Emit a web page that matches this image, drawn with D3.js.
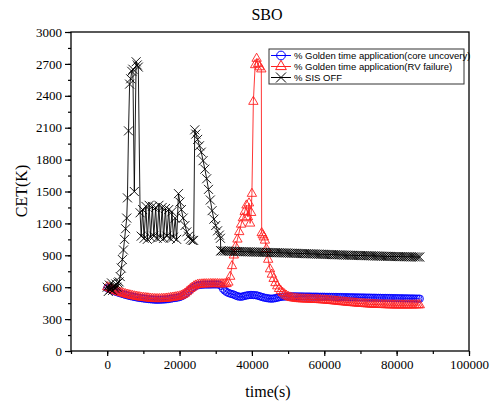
<!DOCTYPE html>
<html>
<head>
<meta charset="utf-8">
<script src="https://cdn.jsdelivr.net/npm/d3@7"></script>
<style>
  html, body { margin: 0; padding: 0; background: #fff; }
  svg { display: block; }
</style>
</head>
<body>
<svg id="chart" width="498" height="408"></svg>
<script>
// ---- data: time (s) and CET (K) for each case ----
const coreTime = [
  0,500,1000,1500,2000,2500,3000,3500,4000,4500,5000,5500,6000,6500,7000,7500,8000,8500,9000,9500,
  10000,10500,11000,11500,12000,12500,13000,13500,14000,14500,15000,15500,16000,16500,17000,17500,
  18000,18500,19000,19500,20000,20500,21000,21500,22000,22500,23000,23500,24000,24500,25000,25500,
  26000,26500,27000,27500,28000,28500,29000,29500,30000,30500,31000,31500,32000,32500,33000,33500,
  34000,34500,35000,35500,36000,36500,37000,37500,38000,38500,39000,39500,40000,40500,41000,41500,
  42000,42500,43000,43500,44000,44500,45000,45500,46000,46500,47000,47500,48000,48500,49000,49500,
  50000,50500,51000,51500,52000,52500,53000,53500,54000,54500,
  55000,55500,56000,56500,57000,57500,58000,58500,59000,59500,
  60000,60500,61000,61500,62000,62500,63000,63500,64000,64500,
  65000,65500,66000,66500,67000,67500,68000,68500,69000,69500,
  70000,70500,71000,71500,72000,72500,73000,73500,74000,74500,
  75000,75500,76000,76500,77000,77500,78000,78500,79000,79500,
  80000,80500,81000,81500,82000,82500,83000,83500,84000,84500,
  85000,85500,86000,86400
];
const coreCET = [
  592,585,577,570,562,556,550,545,539,534,529,524,520,516,512,509,505,502,499,497,
  494,492,490,488,486,485,483,482,482,482,483,484,485,487,489,492,
  495,498,500,503,507,514,522,533,547,562,577,590,602,612,618,621,
  623,624,625,625,625,625,626,626,626,626,625,612,585,568,555,546,
  540,535,530,522,515,511,510,513,518,522,525,527,527,526,525,522,
  516,511,506,501,498,495,493,492,494,497,501,505,509,511,512,513,
  513,514,514,514,514,513,513,513,513,512,
  512,512,512,511,511,511,511,510,510,510,
  510,509,509,509,508,508,508,508,507,507,
  507,506,506,506,505,505,505,504,504,504,
  503,503,503,502,502,502,501,501,501,500,
  500,500,499,499,499,498,498,498,497,497,
  497,496,496,496,495,495,495,494,494,494,
  493,493,492,492
];

const rvTime = [
  0,500,1000,1500,2000,2500,3000,3500,4000,4500,5000,5500,6000,6500,7000,7500,8000,8500,9000,9500,
  10000,10500,11000,11500,12000,12500,13000,13500,14000,14500,15000,15500,16000,16500,17000,17500,
  18000,18500,19000,19500,20000,20500,21000,21500,22000,22500,23000,23500,24000,24500,25000,25500,
  26000,26500,27000,27500,28000,28500,29000,29500,30000,30500,31000,31500,32000,32500,33000,33500,
  34000,34500,35000,35500,36000,36500,37000,37500,38000,38500,38900,39200,39500,39800,40000,40400,
  40900,41300,41700,42100,42600,42700,43000,43300,43600,44000,44500,45000,45500,46000,46500,47000,
  47500,48000,48500,49000,49500,50000,50500,
  51000,51500,52000,52500,53000,53500,54000,54500,55000,55500,
  56000,56500,57000,57500,58000,58500,59000,59500,60000,60500,
  61000,61500,62000,62500,63000,63500,64000,64500,65000,65500,
  66000,66500,67000,67500,68000,68500,69000,69500,70000,70500,
  71000,71500,72000,72500,73000,73500,74000,74500,75000,75500,
  76000,76500,77000,77500,78000,78500,79000,79500,80000,80500,
  81000,81500,82000,82500,83000,83500,84000,84500,85000,85500,
  86000,86400
];
const rvCET = [
  602,594,586,578,571,564,558,552,547,542,537,532,528,524,520,516,513,510,507,504,
  502,500,498,496,494,492,491,490,490,490,491,492,493,495,497,500,
  503,505,508,511,515,522,530,541,555,570,585,598,610,618,624,627,
  628,629,630,630,630,631,631,631,631,631,630,630,630,630,631,645,
  700,800,900,980,1050,1120,1190,1250,1310,1370,1260,1390,1200,1300,1480,2345,
  2690,2750,2700,2670,2650,1110,1090,1070,1040,960,860,770,720,680,640,610,
  585,565,548,535,522,512,505,
  500,497,494,492,490,489,488,488,487,487,
  486,485,484,483,482,481,480,479,478,477,
  475,474,472,470,468,467,465,463,461,460,
  458,456,455,453,452,450,449,447,446,445,
  444,442,441,440,439,438,437,436,435,435,
  434,434,433,433,432,432,432,431,431,431,
  431,431,431,431,431,431,431,431,432,432,
  432,432
];

const sisTime = [
  0,300,600,900,1200,1500,1800,2100,2400,2700,3000,3300,3600,3900,4200,4500,4800,5100,5400,5600,
  5900,6200,6500,6800,7100,7500,8000,8300,8600,9100,9400,9800,10200,10700,11100,11600,12000,12500,
  12900,13400,13800,14300,14700,15200,15600,16100,16500,17000,17400,17900,18300,18800,19200,19700,
  20100,20500,21000,21500,22000,22500,23000,23500,23900,24200,24500,25000,25500,26000,26500,27000,
  27500,28000,28500,29000,29500,30000,30500,31000,31300,31400,
  31500,32000,32500,33000,33500,34000,34500,35000,35500,36000,
  36500,37000,37500,38000,38500,39000,39500,40000,40500,41000,
  41500,42000,42500,43000,43500,44000,44500,45000,45500,46000,
  46500,47000,47500,48000,48500,49000,49500,50000,50500,51000,
  51500,52000,52500,53000,53500,54000,54500,55000,55500,56000,
  56500,57000,57500,58000,58500,59000,59500,60000,60500,61000,
  61500,62000,62500,63000,63500,64000,64500,65000,65500,66000,
  66500,67000,67500,68000,68500,69000,69500,70000,70500,71000,
  71500,72000,72500,73000,73500,74000,74500,75000,75500,76000,
  76500,77000,77500,78000,78500,79000,79500,80000,80500,81000,
  81500,82000,82500,83000,83500,84000,84500,85000,85500,86000,
  86400
];
const sisCET = [
  600,560,620,580,640,570,610,590,630,600,640,650,700,780,860,950,1050,1150,1250,1440,
  2070,2510,2560,2630,2650,1500,2720,2690,2670,1300,1080,1330,1060,1360,1050,1370,1070,1360,
  1080,1350,1060,1370,1070,1350,1060,1340,1080,1330,1060,1310,1070,1250,1050,1480,
  1400,1330,1250,1180,1120,1080,1050,1040,1040,2080,2040,1990,1930,1870,1790,1710,
  1620,1520,1420,1320,1240,1180,1130,1090,1060,942,
  942,941,940,940,939,938,938,937,936,936,
  935,935,934,933,933,932,932,931,931,930,
  930,929,929,928,928,927,927,926,926,925,
  925,924,924,923,923,922,922,921,920,920,
  919,919,918,917,917,916,916,915,914,914,
  913,913,912,911,911,910,910,909,908,908,
  907,907,906,905,905,904,904,903,902,902,
  901,901,900,900,899,899,898,898,897,897,
  896,896,895,895,894,894,893,893,892,892,
  891,891,890,890,889,889,888,888,888,887,
  887,887,886,886,886,885,885,885,884,884,
  884
];

const xTicks = [0, 20000, 40000, 60000, 80000, 100000];
const yTicks = [0, 300, 600, 900, 1200, 1500, 1800, 2100, 2400, 2700, 3000];
const legendLabels = [
  "% Golden time application(core uncovery)",
  "% Golden time application(RV failure)",
  "% SIS OFF"
];

// ---- layout ----
const svg = d3.select("#chart");
const plot = { left: 71, right: 469, top: 32, bottom: 351 };
const serif = "'Liberation Serif', 'Times New Roman', serif";
const sans = "'Liberation Sans', Arial, sans-serif";

const x = d3.scaleLinear().domain([-10000, 100000]).range([plot.left, plot.right]);
const y = d3.scaleLinear().domain([0, 3000]).range([plot.bottom, plot.top]);

// title and axis labels
svg.append("text").attr("x", 267).attr("y", 20).attr("text-anchor", "middle")
  .attr("font-family", serif).attr("font-size", 16).text("SBO");
svg.append("text").attr("x", 268).attr("y", 397).attr("text-anchor", "middle")
  .attr("font-family", serif).attr("font-size", 16).text("time(s)");
svg.append("text").attr("transform", "translate(27,191) rotate(-90)").attr("text-anchor", "middle")
  .attr("font-family", serif).attr("font-size", 16).text("CET(K)");

// ---- series ----
const series = [
  { t: coreTime, v: coreCET, color: "#0000ff", shape: "circle" },
  { t: rvTime, v: rvCET, color: "#ff2020", shape: "triangle" },
  { t: sisTime, v: sisCET, color: "#000000", shape: "cross" }
];

const clipId = "plotClip";
svg.append("clipPath").attr("id", clipId).append("rect")
  .attr("x", plot.left).attr("y", plot.top)
  .attr("width", plot.right - plot.left).attr("height", plot.bottom - plot.top);

const line = d3.line().x(d => x(d[0])).y(d => y(d[1]));

function markerPath(shape) {
  if (shape === "circle") return d3.symbol().type(d3.symbolCircle).size(42)();
  if (shape === "triangle") return d3.symbol().type(d3.symbolTriangle).size(38)();
  return "M-4.5,-4.5L4.5,4.5M-4.5,4.5L4.5,-4.5";
}

const g = svg.append("g").attr("clip-path", `url(#${clipId})`);
series.forEach(s => {
  const pts = s.t.map((t, i) => [t, s.v[i]]);
  g.append("path").datum(pts).attr("d", line)
    .attr("fill", "none").attr("stroke", s.color).attr("stroke-width", 0.9);
  g.append("g").selectAll("path").data(pts).join("path")
    .attr("transform", d => `translate(${x(d[0])},${y(d[1])})`)
    .attr("d", markerPath(s.shape))
    .attr("fill", "none").attr("stroke", s.color).attr("stroke-width", 0.9);
});

// ---- axes ----
const xAxis = d3.axisBottom(x).tickValues(xTicks).tickSize(5).tickPadding(4).tickFormat(d3.format("d"));
const xMinor = d3.axisBottom(x).tickValues(d3.range(-10000, 100001, 10000)).tickSize(3).tickFormat("");
const yAxis = d3.axisLeft(y).tickValues(yTicks).tickSize(6).tickPadding(3).tickFormat(d3.format("d"));
const yMinor = d3.axisLeft(y).tickValues(d3.range(0, 3001, 150)).tickSize(3).tickFormat("");

function styleAxis(sel) {
  sel.select(".domain").remove();
  sel.selectAll("line").attr("stroke", "#000").attr("stroke-width", 1.2);
  sel.selectAll("text").attr("font-family", serif).attr("font-size", 13).attr("fill", "#000");
}
svg.append("g").attr("transform", `translate(0,${plot.bottom})`).call(xMinor).call(styleAxis);
svg.append("g").attr("transform", `translate(0,${plot.bottom})`).call(xAxis).call(styleAxis);
svg.append("g").attr("transform", `translate(${plot.left},0)`).call(yMinor).call(styleAxis);
svg.append("g").attr("transform", `translate(${plot.left},0)`).call(yAxis).call(styleAxis);

svg.append("rect").attr("x", plot.left).attr("y", plot.top)
  .attr("width", plot.right - plot.left).attr("height", plot.bottom - plot.top)
  .attr("fill", "none").attr("stroke", "#000").attr("stroke-width", 1.3);

// ---- legend ----
const lg = svg.append("g").attr("transform", "translate(269,49)");
lg.append("rect").attr("width", 195).attr("height", 35)
  .attr("fill", "#fff").attr("stroke", "#333").attr("stroke-width", 1);
series.forEach((s, i) => {
  const cy = 6.5 + i * 11;
  lg.append("line").attr("x1", 2).attr("x2", 22).attr("y1", cy).attr("y2", cy)
    .attr("stroke", s.color).attr("stroke-width", 1);
  lg.append("path").attr("transform", `translate(12,${cy})`)
    .attr("d", s.shape === "circle" ? d3.symbol().type(d3.symbolCircle).size(60)()
              : s.shape === "triangle" ? d3.symbol().type(d3.symbolTriangle).size(50)()
              : "M-5,-5L5,5M-5,5L5,-5")
    .attr("fill", "none").attr("stroke", s.color).attr("stroke-width", 1);
  lg.append("text").attr("x", 25).attr("y", cy + 3.5)
    .attr("font-family", sans).attr("font-size", 9.5).attr("fill", "#000")
    .text(legendLabels[i]);
});
</script>
</body>
</html>
